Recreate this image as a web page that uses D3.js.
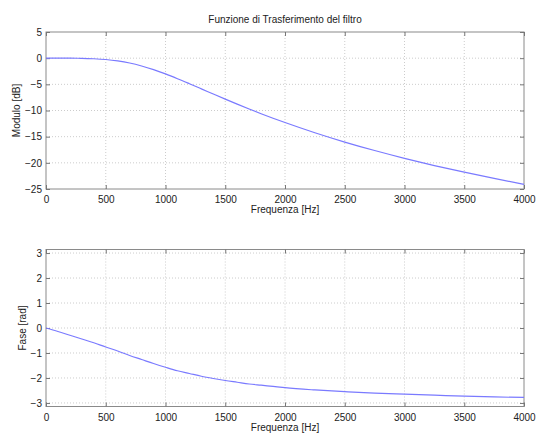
<!DOCTYPE html>
<html lang="it">
<head>
<meta charset="UTF-8">
<title>Funzione di Trasferimento del filtro</title>
<script src="https://d3js.org/d3.v7.min.js"></script>
<style>
  body { margin: 0; background: #fff; }
  text { font-family: "Liberation Sans", Arial, sans-serif; fill: #222; }
</style>
</head>
<body>
<div id="chart"></div>
<script>
  // frequencies [Hz]
  var freq = [0, 100, 200, 300, 400, 500, 600, 700, 800, 900, 1000, 1100, 1200, 1300, 1400,
              1500, 1600, 1700, 1800, 1900, 2000, 2250, 2500, 2750, 3000, 3250, 3500, 3750, 4000];
  // magnitude [dB]
  var modulo = [0, 0, -0.01, -0.03, -0.11, -0.26, -0.53, -0.93, -1.49, -2.19, -3.01, -3.92, -4.88, -5.86, -6.85,
                -7.83, -8.78, -9.71, -10.61, -11.47, -12.3, -14.25, -16.03, -17.65, -19.14, -20.52, -21.79, -22.98, -24.1];
  // phase [rad]
  var fase = [0, -0.14, -0.29, -0.44, -0.59, -0.76, -0.92, -1.1, -1.26, -1.42, -1.57, -1.71, -1.82, -1.93, -2.02,
              -2.1, -2.17, -2.24, -2.29, -2.34, -2.39, -2.48, -2.55, -2.61, -2.65, -2.69, -2.73, -2.76, -2.78];

  var xTicks = [0, 500, 1000, 1500, 2000, 2500, 3000, 3500, 4000];
  var modTicks = [5, 0, -5, -10, -15, -20, -25];
  var faseTicks = [3, 2, 1, 0, -1, -2, -3];

  var width = 537, height = 434;
  var svg = d3.select("#chart").append("svg").attr("width", width).attr("height", height);

  var x = d3.scaleLinear().domain([0, 4000]).range([46, 524]);

  function drawPanel(top, bottom, yDomain, yTicks, values, yLabel, labelX, title) {
    var y = d3.scaleLinear().domain(yDomain).range([bottom, top]);
    var g = svg.append("g");

    // dotted grid
    g.selectAll(".gx").data(xTicks.slice(1, -1)).enter().append("line")
      .attr("x1", d => x(d)).attr("x2", d => x(d)).attr("y1", top).attr("y2", bottom)
      .style("stroke", "#cccccc").style("stroke-dasharray", "1,2");
    g.selectAll(".gy").data(yTicks.filter(d => y(d) > top + 1 && y(d) < bottom - 1)).enter().append("line")
      .attr("y1", d => y(d)).attr("y2", d => y(d)).attr("x1", x(0)).attr("x2", x(4000))
      .style("stroke", "#cccccc").style("stroke-dasharray", "1,2");

    // box
    g.append("rect").attr("x", x(0)).attr("y", top).attr("width", x(4000) - x(0)).attr("height", bottom - top)
      .style("fill", "none").style("stroke", "#8a8a8a");

    // axes with inward ticks, matlab style
    var xb = d3.axisBottom(x).tickValues(xTicks).tickSizeInner(-4).tickSizeOuter(0).tickPadding(7).tickFormat(d3.format("d"));
    var xt = d3.axisTop(x).tickValues(xTicks).tickSizeInner(-4).tickSizeOuter(0).tickFormat("");
    var yl = d3.axisLeft(y).tickValues(yTicks).tickSizeInner(-4).tickSizeOuter(0).tickPadding(4).tickFormat(d3.format("d"));
    var yr = d3.axisRight(y).tickValues(yTicks).tickSizeInner(-4).tickSizeOuter(0).tickFormat("");

    [[xb, "translate(0," + bottom + ")"], [xt, "translate(0," + top + ")"],
     [yl, "translate(" + x(0) + ",0)"], [yr, "translate(" + x(4000) + ",0)"]].forEach(function(a) {
      var ax = g.append("g").attr("transform", a[1]).call(a[0]);
      ax.select(".domain").remove();
      ax.selectAll("line").style("stroke", "#777");
      ax.selectAll("text").style("font-size", "10px").style("fill", "#222")
        .style("font-family", "'Liberation Sans', Arial, sans-serif");
    });

    // curve
    var line = d3.line().x((d, i) => x(freq[i])).y(d => y(d)).curve(d3.curveMonotoneX);
    g.append("path").datum(values).attr("d", line)
      .style("fill", "none").style("stroke", "#7a7aff").style("stroke-width", 1.2);

    // labels
    g.append("text").attr("x", (x(0) + x(4000)) / 2).attr("y", bottom + 24)
      .attr("text-anchor", "middle").style("font-size", "10px").text("Frequenza [Hz]");
    g.append("text").attr("transform", "translate(" + labelX + "," + (top + bottom) / 2 + ") rotate(-90)")
      .attr("text-anchor", "middle").style("font-size", "10px").text(yLabel);
    if (title) {
      g.append("text").attr("x", (x(0) + x(4000)) / 2).attr("y", top - 9)
        .attr("text-anchor", "middle").style("font-size", "10px").text(title);
    }
  }

  drawPanel(32, 189, [-25, 5], modTicks, modulo, "Modulo [dB]", 20, "Funzione di Trasferimento del filtro");
  drawPanel(249.5, 406.5, [-Math.PI, Math.PI], faseTicks, fase, "Fase [rad]", 26, null);
</script>
</body>
</html>
